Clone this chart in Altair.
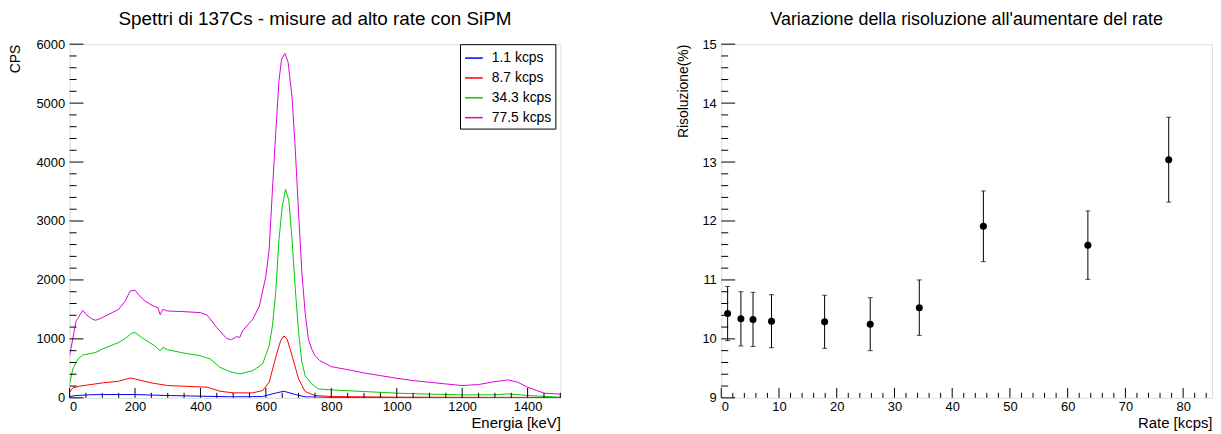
import altair as alt
import pandas as pd

# ---------------- data: spectra (left panel) ----------------
series_names = ["1.1 kcps", "8.7 kcps", "34.3 kcps", "77.5 kcps"]
series_colors = ["#0000ff", "#ff0000", "#00cc00", "#dd00dd"]

e_blue = [0, 20, 60, 100, 200, 300, 400, 500, 590, 620, 655, 690, 720, 800, 1500]
cps_blue = [22, 39, 51, 56, 56, 39, 28, 17, 22, 67, 112, 56, 17, 6, 0]

e_red = [0, 10, 30, 100, 150, 185, 200, 250, 300, 350, 420, 460, 500, 560, 590, 610,
         630, 645, 655, 665, 680, 700, 720, 750, 800, 1000, 1500]
cps_red = [96, 169, 197, 253, 281, 337, 320, 253, 208, 197, 180, 112, 84, 84, 124, 264,
           686, 967, 1051, 995, 714, 320, 107, 39, 22, 11, 6]

e_green = [0, 10, 25, 40, 80, 100, 150, 170, 190, 200, 220, 260, 277, 285, 300, 350,
           400, 430, 460, 490, 520, 560, 590, 610, 620, 630, 640, 650, 660, 670, 680,
           690, 700, 710, 720, 740, 760, 800, 900, 1000, 1100, 1200, 1300, 1340, 1400, 1500]
cps_green = [236, 489, 658, 725, 770, 827, 939, 1006, 1096, 1108, 1023, 883, 798, 855, 815, 759,
             714, 658, 517, 444, 405, 461, 574, 883, 1220, 1783, 2682, 3244, 3537, 3357, 2682,
             1839, 1108, 602, 377, 236, 152, 135, 107, 79, 62, 51, 51, 67, 39, 11]

e_mag = [0, 20, 25, 40, 50, 70, 80, 100, 130, 150, 170, 185, 200, 210, 230, 260, 270, 277,
         285, 300, 350, 400, 420, 450, 480, 495, 510, 520, 530, 560, 580, 600, 610, 620,
         630, 640, 648, 658, 668, 680, 690, 700, 710, 720, 730, 740, 750, 765, 800, 850,
         900, 950, 1000, 1050, 1100, 1150, 1200, 1250, 1300, 1340, 1370, 1400, 1450, 1500]
cps_mag = [714, 1305, 1344, 1484, 1417, 1333, 1316, 1361, 1445, 1501, 1642, 1811, 1828, 1754,
           1642, 1546, 1530, 1411, 1501, 1473, 1462, 1445, 1406, 1192, 1006, 984, 1040, 1023,
           1147, 1333, 1557, 2064, 2514, 3526, 4482, 5381, 5747, 5843, 5691, 5100, 4200, 3132,
           2120, 1445, 995, 827, 714, 630, 529, 478, 422, 377, 332, 292, 264, 236, 208, 225,
           275, 304, 264, 180, 79, 62]

# ---------------- data: resolution vs rate (right panel) ----------------
rates = [1.1, 3.4, 5.5, 8.7, 17.9, 25.8, 34.3, 45.4, 63.5, 77.5]
resolution = [10.43, 10.34, 10.33, 10.30, 10.29, 10.25, 10.53, 11.91, 11.59, 13.04]
res_err = [0.46, 0.46, 0.46, 0.45, 0.45, 0.45, 0.47, 0.60, 0.58, 0.72]

# tick values
left_x_major = [0, 200, 400, 600, 800, 1000, 1200, 1400]
left_x_minor = [v for v in range(0, 1501, 50) if v % 200 != 0]
left_y_major = [0, 1000, 2000, 3000, 4000, 5000, 6000]
left_y_minor = [v for v in range(0, 6001, 200) if v % 1000 != 0]
right_x_major = [0, 10, 20, 30, 40, 50, 60, 70, 80]
right_x_minor = [v for v in range(0, 86, 2) if v % 10 != 0]
right_y_major = [9, 10, 11, 12, 13, 14, 15]
right_y_minor = [round(9 + 0.2 * i, 1) for i in range(31) if i % 5 != 0]

W, H = 494, 356
FONT = "Liberation Sans"
YMAJ, YMIN = 14, 7
XMAJ, XMIN = 10, 5

rows = []
for name, es, vs in zip(series_names, [e_blue, e_red, e_green, e_mag],
                        [cps_blue, cps_red, cps_green, cps_mag]):
    for e, v in zip(es, vs):
        rows.append({"series": name, "E": e, "cps": v})
spec_df = pd.DataFrame(rows)

res_df = pd.DataFrame({"rate": rates, "res": resolution, "err": res_err})
res_df["lo"] = res_df["res"] - res_df["err"]
res_df["hi"] = res_df["res"] + res_df["err"]


def make_axes(xvals, yvals, xtitle, ytitle, ytitle_x):
    xa = alt.Axis(values=xvals, title=xtitle, format="d", ticks=False, tickSize=0, domain=False,
                  grid=False, labelPadding=3, labelFontSize=13, titleFontSize=15, labelFont=FONT,
                  titleFont=FONT, titleX=W, titleY=25, titleAlign="right", titleBaseline="middle",
                  labelColor="black", titleColor="black", titleFontWeight="normal")
    ya = alt.Axis(values=yvals, title=ytitle, format="d", ticks=False, tickSize=0, domain=False,
                  grid=False, labelPadding=5, labelFontSize=13, titleFontSize=14, labelFont=FONT,
                  titleFont=FONT, titleX=ytitle_x, titleY=0, titleAngle=270, titleAlign="right",
                  titleBaseline="middle",
                  labelColor="black", titleColor="black", titleFontWeight="normal")
    return xa, ya


def tick_layers(xscale, yscale, xa, ya, xmaj, xmin, ymaj, ymin):
    layers = []
    for vals, L in [(xmaj, XMAJ), (xmin, XMIN)]:
        layers.append(alt.Chart(pd.DataFrame({"t": vals})).mark_rule(color="black", strokeWidth=1).encode(
            x=alt.X("t:Q", scale=xscale, axis=xa), y=alt.value(H), y2=alt.value(H - L)))
    for vals, L in [(ymaj, YMAJ), (ymin, YMIN)]:
        layers.append(alt.Chart(pd.DataFrame({"t": vals})).mark_rule(color="black", strokeWidth=1).encode(
            y=alt.Y("t:Q", scale=yscale, axis=ya), x=alt.value(0), x2=alt.value(L)))
    return layers


# ---------------- left panel ----------------
lx_scale = alt.Scale(domain=[0, 1500], nice=False, zero=False)
ly_scale = alt.Scale(domain=[0, 6000], nice=False, zero=False)
lxa, lya = make_axes(left_x_major, left_y_major, "Energia [keV]", "CPS", -54)

lines = alt.Chart(spec_df).mark_line(strokeWidth=1, clip=True).encode(
    x=alt.X("E:Q", scale=lx_scale, axis=lxa),
    y=alt.Y("cps:Q", scale=ly_scale, axis=lya),
    color=alt.Color("series:N", scale=alt.Scale(domain=series_names, range=series_colors),
                    legend=alt.Legend(title=None, orient="none", legendX=393, legendY=0,
                                      direction="vertical", symbolType="stroke", symbolSize=320,
                                      symbolStrokeWidth=1.5, labelFontSize=14, labelFont=FONT,
                                      labelColor="black", strokeColor="black", fillColor="white",
                                      labelExpr="datum.label + '\u00a0\u00a0'",
                                      padding=4, rowPadding=3, labelOffset=8, cornerRadius=0)),
)

left = alt.layer(lines, *tick_layers(lx_scale, ly_scale, lxa, lya, left_x_major, left_x_minor,
                                     left_y_major, left_y_minor)).properties(
    width=W, height=H,
    title=alt.TitleParams("Spettri di 137Cs - misure ad alto rate con SiPM", fontSize=19, font=FONT,
                          fontWeight="normal", color="black", anchor="middle", offset=9))

# ---------------- right panel ----------------
rx_scale = alt.Scale(domain=[0, 85], nice=False, zero=False)
ry_scale = alt.Scale(domain=[9, 15], nice=False, zero=False)
rxa, rya = make_axes(right_x_major, right_y_major, "Rate [kcps]", "Risoluzione(%)", -38)

base = alt.Chart(res_df)
bars = base.mark_rule(color="black", strokeWidth=1).encode(
    x=alt.X("rate:Q", scale=rx_scale, axis=rxa),
    y=alt.Y("lo:Q", scale=ry_scale, axis=rya), y2="hi:Q")
cap_hi = base.mark_tick(color="black", orient="horizontal", size=5, thickness=1).encode(
    x=alt.X("rate:Q", scale=rx_scale, axis=rxa), y=alt.Y("hi:Q", scale=ry_scale, axis=rya))
cap_lo = base.mark_tick(color="black", orient="horizontal", size=5, thickness=1).encode(
    x=alt.X("rate:Q", scale=rx_scale, axis=rxa), y=alt.Y("lo:Q", scale=ry_scale, axis=rya))
pts = base.mark_circle(color="black", size=50, opacity=1).encode(
    x=alt.X("rate:Q", scale=rx_scale, axis=rxa), y=alt.Y("res:Q", scale=ry_scale, axis=rya))

right = alt.layer(bars, cap_hi, cap_lo, pts,
                  *tick_layers(rx_scale, ry_scale, rxa, rya, right_x_major, right_x_minor,
                               right_y_major, right_y_minor)).properties(
    width=W, height=H,
    title=alt.TitleParams("Variazione della risoluzione all'aumentare del rate", fontSize=18, font=FONT,
                          fontWeight="normal", color="black", anchor="middle", offset=9))

chart = alt.hconcat(left, right, spacing=115).properties(padding=0).configure_view(
    stroke="black", strokeWidth=1).configure(background="white")

chart.save("out.html", embed_options={"renderer": "svg", "actions": False})
